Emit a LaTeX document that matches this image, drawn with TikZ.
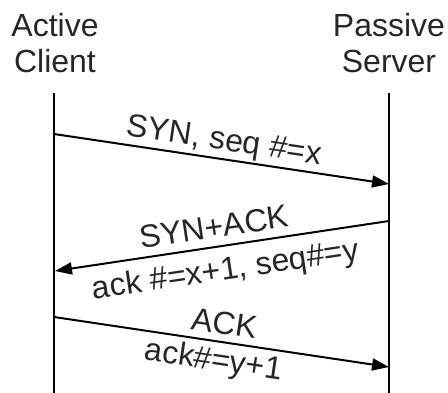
\documentclass[tikz,border=0pt]{standalone}
\usepackage{fontspec}
\setmainfont{Liberation Sans}
\usetikzlibrary{arrows.meta}
\definecolor{txt}{HTML}{262626}
\begin{document}
\begin{tikzpicture}[x=1pt,y=1pt,
  head/.style={font=\fontsize{32}{36}\selectfont,text=txt,align=center,inner sep=0pt},
  life/.style={line width=2.2pt,black},
  msg/.style={line width=2pt,black,-{Triangle[length=17pt,width=12pt]}},
  lbl/.style={font=\fontsize{32}{34}\selectfont,text=txt,sloped,inner sep=0pt,
    text height=23pt,text depth=7pt}]
\useasboundingbox (0,0) rectangle (448,-393);
\node[head] (ac) at (55,-43) {Active\\Client};
\node[head] (ps) at (389,-43) {Passive\\Server};
\coordinate (lt) at (54,-93);
\coordinate (lb) at (54,-393);
\coordinate (rt) at (389,-93);
\coordinate (rb) at (389,-393);
\draw[life] (lt) -- (lb);
\draw[life] (rt) -- (rb);
\coordinate (a1s) at (54,-134);
\coordinate (a1e) at (389,-184);
\coordinate (a2s) at (389,-221);
\coordinate (a2e) at (55,-271);
\coordinate (a3s) at (54,-317);
\coordinate (a3e) at (389,-367);
\draw[msg] (a1s) -- node[lbl,above=1pt] (l1) {SYN, seq \#=x} (a1e);
\draw[msg] (a2s) -- node[lbl,above=1pt,xshift=-5pt] (l2a) {SYN+ACK}
  node[lbl,below=10pt] (l2b) {ack \#=x+1, seq\#=y} (a2e);
\draw[msg] (a3s) -- node[lbl,above=0pt] (l3a) {ACK}
  node[lbl,below=5pt,xshift=-5pt] (l3b) {ack\#=y+1} (a3e);
\end{tikzpicture}
\end{document}
